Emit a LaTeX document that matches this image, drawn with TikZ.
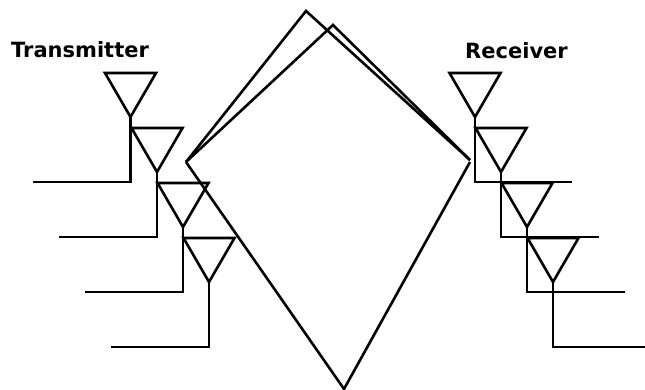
\documentclass[tikz,border=0pt]{standalone}
\usepackage{fontspec}
\setmainfont{DejaVu Sans}
\usepackage{tikz}
\tikzset{wire/.style={line width=2.6pt,line join=miter,black},
         antenna/.style={wire,line join=miter},
         title/.style={font=\fontsize{21}{24}\selectfont\bfseries,inner sep=0pt,anchor=base}}
\begin{document}
\begin{tikzpicture}[x=1pt,y=-1pt]
    \useasboundingbox (0,0) rectangle (645,390);
    \node[title] (tx) at (80,57.5) {Transmitter};
    \node[title] (rx) at (516.5,59) {Receiver};
    % transmitter side
    \coordinate (t1) at (130.5,117);
    \coordinate (t2) at (157,172);
    \coordinate (t3) at (183,227);
    \coordinate (t4) at (209,282);
    \coordinate (f1) at (33,182);
    \coordinate (f2) at (59,237);
    \coordinate (f3) at (85,292);
    \coordinate (f4) at (111,347);
    \draw[antenna] (t1) -- ++(-25.5,-44) -- ++(51,0) -- cycle;
    \draw[antenna] (t2) -- ++(-25.5,-44) -- ++(51,0) -- cycle;
    \draw[antenna] (t3) -- ++(-25.5,-44) -- ++(51,0) -- cycle;
    \draw[antenna] (t4) -- ++(-25.5,-44) -- ++(51,0) -- cycle;
    \draw[wire] (t1) |- (f1);
    \draw[wire] (t2) |- (f2);
    \draw[wire] (t3) |- (f3);
    \draw[wire] (t4) |- (f4);
    % receiver side
    \coordinate (r1) at (475,117);
    \coordinate (r2) at (501,172);
    \coordinate (r3) at (527,227);
    \coordinate (r4) at (553,282);
    \coordinate (g1) at (572,182);
    \coordinate (g2) at (599,237);
    \coordinate (g3) at (625,292);
    \coordinate (g4) at (645,347);
    \draw[antenna] (r1) -- ++(-25.5,-44) -- ++(51,0) -- cycle;
    \draw[antenna] (r2) -- ++(-25.5,-44) -- ++(51,0) -- cycle;
    \draw[antenna] (r3) -- ++(-25.5,-44) -- ++(51,0) -- cycle;
    \draw[antenna] (r4) -- ++(-25.5,-44) -- ++(51,0) -- cycle;
    \draw[wire] (r1) |- (g1);
    \draw[wire] (r2) |- (g2);
    \draw[wire] (r3) |- (g3);
    \draw[wire] (r4) |- (g4);
    % paths between the two sides
    \coordinate (src) at (186,162);
    \coordinate (dst) at (470,160);
    \coordinate (dst2) at (470,162);
    \coordinate (top1) at (306,11);
    \coordinate (top2) at (333,25);
    \coordinate (low) at (344,389);
    \draw[wire] (src) -- (top1) -- (dst);
    \draw[wire] (src) -- (top2) -- (dst);
    \draw[wire] (src) -- (low) -- (dst2);
\end{tikzpicture}
\end{document}
